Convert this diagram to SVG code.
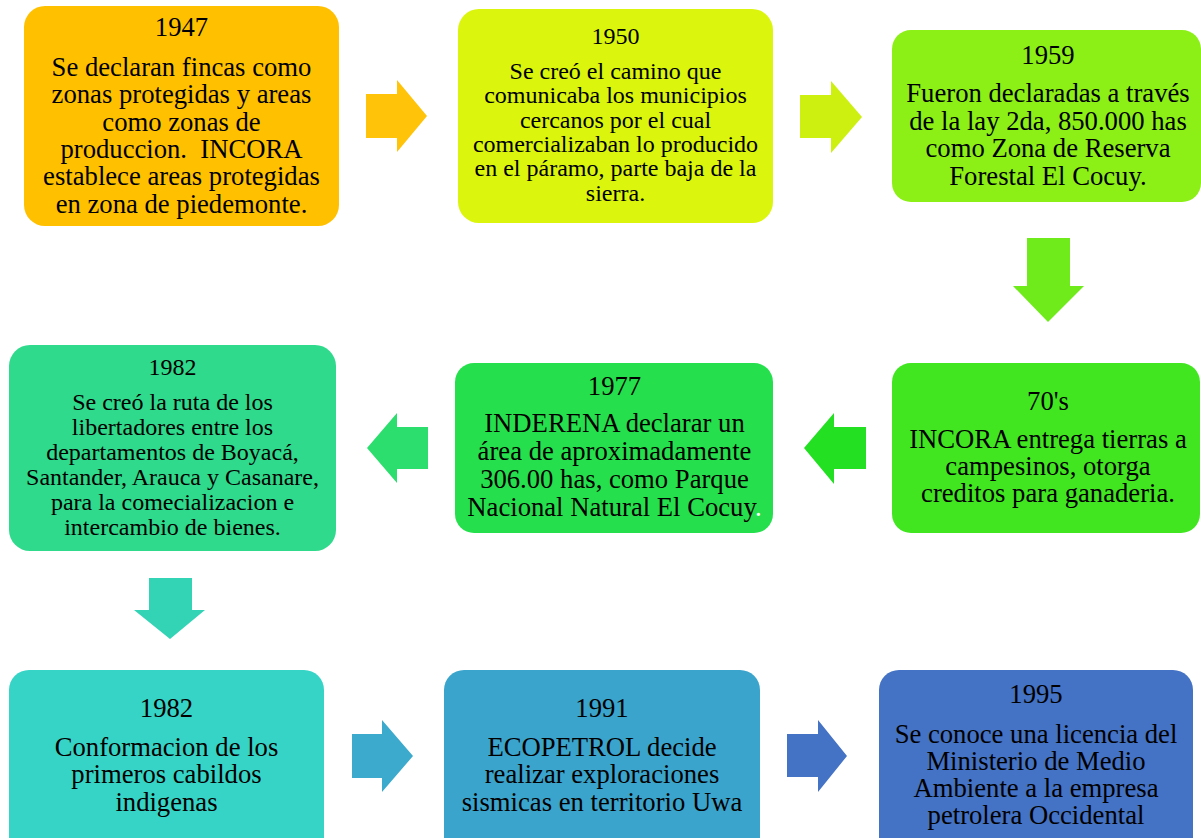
<svg xmlns="http://www.w3.org/2000/svg" width="1201" height="838" viewBox="0 0 1201 838">
<style>
text{font-family:"Liberation Serif","Times New Roman",serif;fill:#000;text-anchor:middle}
.b{font-size:26.67px}
.s{font-size:24px}
</style>
<rect width="1201" height="838" fill="#fff"/>
<g id="connectors">
<polygon fill="#FFC30A" points="366,94 397,94 397,80 427,116 397,152 397,138 366,138"/>
<polygon fill="#CEF011" points="800,95 831,95 831,81 862,117 831,153 831,138 800,138"/>
<polygon fill="#6FEB1B" points="1027,238 1070,238 1070,286 1084,286 1048,322 1013,286 1027,286"/>
<polygon fill="#24E022" points="866,427 834,427 834,413 804,448 834,484 834,469 866,469"/>
<polygon fill="#2BDE6E" points="428,427 397,427 397,413 367,448 397,483 397,469 428,469"/>
<polygon fill="#33D4B6" points="149,578 192,578 192,610 205,610 170,639 134,610 149,610"/>
<polygon fill="#3BAACC" points="352,734 382,734 382,720 413,756 382,792 382,778 352,778"/>
<polygon fill="#4472C4" points="787,734 818,734 818,720 847,756 818,792 818,777 787,777"/>
</g>
<g id="n1947">
<rect x="24" y="6" width="315" height="220" rx="21" fill="#FFC000"/>
<text class="b" x="181.5" y="36">1947</text>
<text class="b" x="181.5" y="76">Se declaran fincas como</text>
<text class="b" x="181.5" y="103.3">zonas protegidas y areas</text>
<text class="b" x="181.5" y="130.6">como zonas de</text>
<text class="b" x="181.5" y="157.9" xml:space="preserve">produccion.  INCORA</text>
<text class="b" x="181.5" y="185.2">establece areas protegidas</text>
<text class="b" x="181.5" y="212.5">en zona de piedemonte.</text>
</g>
<g id="n1950">
<rect x="458" y="9" width="315" height="214" rx="21" fill="#DBF50C"/>
<text class="s" x="615.5" y="44">1950</text>
<text class="s" x="615.5" y="79">Se creó el camino que</text>
<text class="s" x="615.5" y="103.3">comunicaba los municipios</text>
<text class="s" x="615.5" y="127.6">cercanos por el cual</text>
<text class="s" x="615.5" y="151.9">comercializaban lo producido</text>
<text class="s" x="615.5" y="176.2">en el páramo, parte baja de la</text>
<text class="s" x="615.5" y="200.5">sierra.</text>
</g>
<g id="n1959">
<rect x="892" y="30" width="309" height="172" rx="19" fill="#8CEF16"/>
<text class="b" x="1048" y="64">1959</text>
<text class="b" x="1048" y="101.7">Fueron declaradas a través</text>
<text class="b" x="1048" y="129.5">de la lay 2da, 850.000 has</text>
<text class="b" x="1048" y="157.2">como Zona de Reserva</text>
<text class="b" x="1048" y="185">Forestal El Cocuy.</text>
</g>
<g id="n70s">
<rect x="892" y="363" width="308" height="170" rx="19" fill="#41E620"/>
<text class="b" x="1048" y="410">70's</text>
<text class="b" x="1048" y="447.7">INCORA entrega tierras a</text>
<text class="b" x="1048" y="475">campesinos, otorga</text>
<text class="b" x="1048" y="502.3">creditos para ganaderia.</text>
</g>
<g id="n1977">
<rect x="455" y="363" width="318" height="170" rx="19" fill="#25E04C"/>
<text class="b" x="614.5" y="395">1977</text>
<text class="b" x="614.5" y="431.7">INDERENA declarar un</text>
<text class="b" x="614.5" y="459.8">área de aproximadamente</text>
<text class="b" x="614.5" y="487.9">306.00 has, como Parque</text>
<text class="b" x="614.5" y="516">Nacional Natural El Cocuy<tspan fill="#fff">.</tspan></text>
</g>
<g id="n1982a">
<rect x="9" y="345" width="327" height="206" rx="21" fill="#2FDA8C"/>
<text class="s" x="172.5" y="375">1982</text>
<text class="s" x="172.5" y="410">Se creó la ruta de los</text>
<text class="s" x="172.5" y="434.9">libertadores entre los</text>
<text class="s" x="172.5" y="459.8">departamentos de Boyacá,</text>
<text class="s" x="172.5" y="484.7">Santander, Arauca y Casanare,</text>
<text class="s" x="172.5" y="509.6">para la comecializacion e</text>
<text class="s" x="172.5" y="534.5">intercambio de bienes.</text>
</g>
<g id="n1982b">
<rect x="9" y="670" width="315" height="190" rx="20" fill="#36D4C6"/>
<text class="b" x="166.5" y="716.7">1982</text>
<text class="b" x="166.5" y="756">Conformacion de los</text>
<text class="b" x="166.5" y="783.3">primeros cabildos</text>
<text class="b" x="166.5" y="810.6">indigenas</text>
</g>
<g id="n1991">
<rect x="444" y="670" width="316" height="190" rx="20" fill="#3BA4CC"/>
<text class="b" x="602" y="716.7">1991</text>
<text class="b" x="602" y="756">ECOPETROL decide</text>
<text class="b" x="602" y="783.3">realizar exploraciones</text>
<text class="b" x="602" y="810.6">sismicas en territorio Uwa</text>
</g>
<g id="n1995">
<rect x="879" y="670" width="314" height="190" rx="20" fill="#4472C4"/>
<text class="b" x="1036" y="702.7">1995</text>
<text class="b" x="1036" y="742.7">Se conoce una licencia del</text>
<text class="b" x="1036" y="769.8">Ministerio de Medio</text>
<text class="b" x="1036" y="796.9">Ambiente a la empresa</text>
<text class="b" x="1036" y="824">petrolera Occidental</text>
</g>
</svg>
